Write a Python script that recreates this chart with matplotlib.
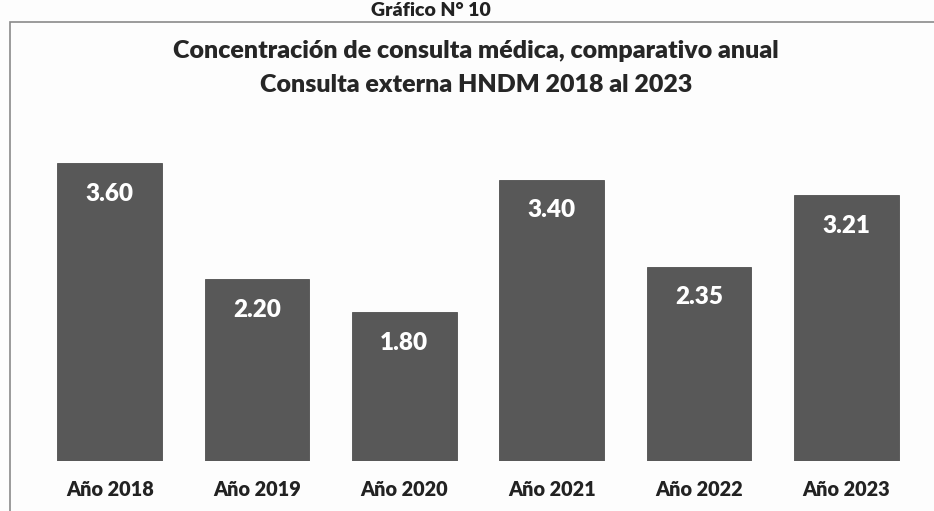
import matplotlib
matplotlib.use('Agg')
import matplotlib.pyplot as plt
from matplotlib.patches import Rectangle

# chart data
categories = ['Año 2018', 'Año 2019', 'Año 2020', 'Año 2021', 'Año 2022', 'Año 2023']
values = [3.60, 2.20, 1.80, 3.40, 2.35, 3.21]
value_labels = ['3.60', '2.20', '1.80', '3.40', '2.35', '3.21']

title_top = 'Gráfico N° 10'
title_lines = ['Concentración de consulta médica, comparativo anual',
               'Consulta externa HNDM 2018 al 2023']

plt.rcParams['font.family'] = ['Lato', 'DejaVu Sans']

fig = plt.figure(figsize=(9.34, 5.11), dpi=100)
fig.patch.set_facecolor('#fdfdfd')

# frame around the chart (scanned page, cut on the right and bottom)
fig.add_artist(Rectangle((10 / 934, -0.05), 1.0, (511 - 22) / 511 + 0.05,
                         transform=fig.transFigure, fill=False,
                         edgecolor='#8a8a8a', linewidth=1.2))

# page heading above the frame
fig.text(431 / 934, 1 - 10 / 511, title_top, ha='center', va='center',
         fontsize=14, fontweight='heavy', color='#222222')
fig.text(476 / 934, 1 - 51 / 511, title_lines[0], ha='center', va='center',
         fontsize=18, fontweight='heavy', color='#262626')
fig.text(476 / 934, 1 - 85 / 511, title_lines[1], ha='center', va='center',
         fontsize=18, fontweight='heavy', color='#262626')

ax = fig.add_axes([36 / 934, 50 / 511, 884 / 934, 331 / 511])
ax.set_facecolor('none')
x = range(len(categories))
bars = ax.bar(x, values, width=0.71, color='#585858', edgecolor='#505050',
              linewidth=0.6, zorder=3)

for b, lbl in zip(bars, value_labels):
    ax.annotate(lbl, (b.get_x() + b.get_width() / 2, b.get_height()),
                xytext=(0, -22), textcoords='offset points', ha='center',
                va='center', color='white', fontsize=17.5, fontweight='heavy',
                zorder=4)

ax.set_xlim(-0.5, len(categories) - 0.5)
ax.set_ylim(0, 4)
ax.set_xticks(list(x))
ax.set_xticklabels(categories, fontsize=14.3, fontweight='heavy', color='#222222')
ax.tick_params(axis='x', length=0, pad=14)
ax.set_yticks([])
for s in ax.spines.values():
    s.set_visible(False)

fig.savefig('out.png', dpi=100, facecolor=fig.get_facecolor())
